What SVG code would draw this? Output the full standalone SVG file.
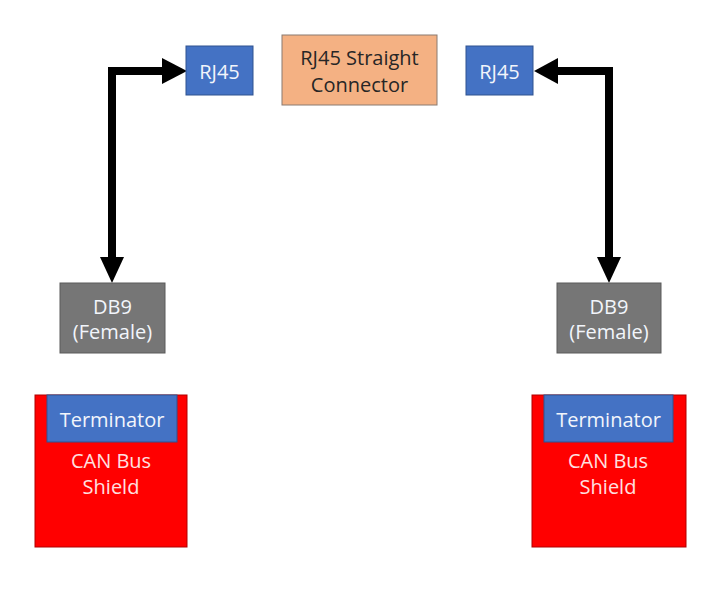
<svg xmlns="http://www.w3.org/2000/svg" width="711" height="600" viewBox="0 0 711 600">
<style>
text{font-family:"Open Sans","Liberation Sans",sans-serif;font-size:20px;text-anchor:middle;dominant-baseline:central}
.blue{fill:#4472c4;stroke:#2f528f;stroke-width:1}
.grey{fill:#767676;stroke:#5a5a5a;stroke-width:1}
.red{fill:#ff0000;stroke:#b00000;stroke-width:1}
.orange{fill:#f4b183;stroke:#8a7a70;stroke-width:1}
.wt{fill:#f2f5fb}
.pt{fill:#ffe0e0}
.dt{fill:#262626}
.line{fill:none;stroke:#000;stroke-width:8}
</style>
<rect width="711" height="600" fill="#fff"/>
<g id="connectors">
<polyline class="line" points="112,258 112,71 163,71"/>
<polygon points="162,58 187,71 162,84"/>
<polygon points="100,257 124,257 112,283"/>
<polyline class="line" points="609,258 609,71 557,71"/>
<polygon points="558,58 534,71 558,84"/>
<polygon points="597,257 621,257 609,283"/>
</g>
<g id="rj45-left"><rect class="blue" x="186" y="46" width="67" height="49"/><text class="wt" x="219.5" y="71">RJ45</text></g>
<g id="rj45-straight"><rect class="orange" x="282" y="35" width="155" height="70"/><text class="dt" x="359.5" y="57">RJ45 Straight</text><text class="dt" x="359.5" y="84">Connector</text></g>
<g id="rj45-right"><rect class="blue" x="466" y="46" width="67" height="49"/><text class="wt" x="499.5" y="71">RJ45</text></g>
<g id="db9-left"><rect class="grey" x="60" y="283" width="105" height="70"/><text class="wt" x="112.5" y="306">DB9</text><text class="wt" x="112.5" y="331">(Female)</text></g>
<g id="db9-right"><rect class="grey" x="557" y="283" width="104" height="70"/><text class="wt" x="609" y="306">DB9</text><text class="wt" x="609" y="331">(Female)</text></g>
<g id="shield-left"><rect class="red" x="35" y="395" width="152" height="152"/><rect class="blue" x="47" y="395" width="130" height="47"/><text class="wt" x="112" y="419">Terminator</text><text class="pt" x="111" y="460">CAN Bus</text><text class="pt" x="111" y="486">Shield</text></g>
<g id="shield-right"><rect class="red" x="532" y="395" width="154" height="152"/><rect class="blue" x="544" y="395" width="129" height="47"/><text class="wt" x="608.5" y="419">Terminator</text><text class="pt" x="608" y="460">CAN Bus</text><text class="pt" x="608" y="486">Shield</text></g>
</svg>
